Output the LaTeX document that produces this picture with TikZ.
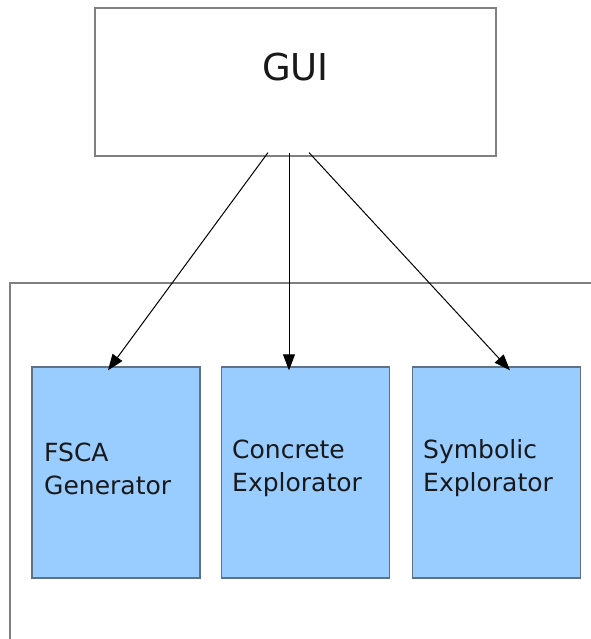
\documentclass[tikz,border=0pt]{standalone}
\usepackage{fontspec}
\setmainfont{DejaVu Sans}
\usetikzlibrary{arrows.meta}
\definecolor{boxblue}{HTML}{99CCFF}
\definecolor{boxedge}{HTML}{5F7182}
\definecolor{frameg}{HTML}{808080}
\tikzset{
  guibox/.style={draw=frameg, line width=1.2pt, fill=white, minimum width=401pt, minimum height=148pt, inner sep=0pt},
  modbox/.style={draw=boxedge, line width=1.4pt, fill=boxblue, minimum width=168pt, minimum height=211pt, inner sep=0pt},
  modtext/.style={anchor=base west, inner sep=0pt, align=left, font=\fontsize{25}{33}\selectfont, text=black!90},
  arr/.style={draw=black, line width=1pt, -{Triangle[length=16pt, width=12pt]}},
  framel/.style={draw=frameg, line width=1.3pt}
}
\begin{document}
\begin{tikzpicture}[x=1pt, y=-1pt]
\useasboundingbox (0,0) rectangle (590,639);
\fill[white] (0,0) rectangle (590,639);
% outer container
\draw[framel] (10,640) -- (10,283) -- (591,283);
% GUI
\node[guibox] (gui) at (295.5,82) {};
\node[inner sep=0pt, font=\fontsize{37}{44}\selectfont, text=black!90] (guit) at (295.5,67) {GUI};
% modules
\node[modbox] (fsca) at (116,472.5) {};
\node[modbox] (conc) at (305.5,472.5) {};
\node[modbox] (symb) at (496.5,472.5) {};
\node[modtext] (fscat) at (44,494) {FSCA\\Generator};
\node[modtext] (conct) at (232,491) {Concrete\\Explorator};
\node[modtext] (symbt) at (423,491) {Symbolic\\Explorator};
% arrows
\draw[arr] ([xshift=-27.5pt,yshift=4pt]gui.south) -- ([xshift=-8pt,yshift=-4pt]fsca.north);
\draw[arr] ([xshift=-6.5pt,yshift=4pt]gui.south) -- ([xshift=-16.5pt,yshift=-4pt]conc.north);
\draw[arr] ([xshift=13.5pt,yshift=4pt]gui.south) -- ([xshift=13.5pt,yshift=-4pt]symb.north);
\end{tikzpicture}
\end{document}
